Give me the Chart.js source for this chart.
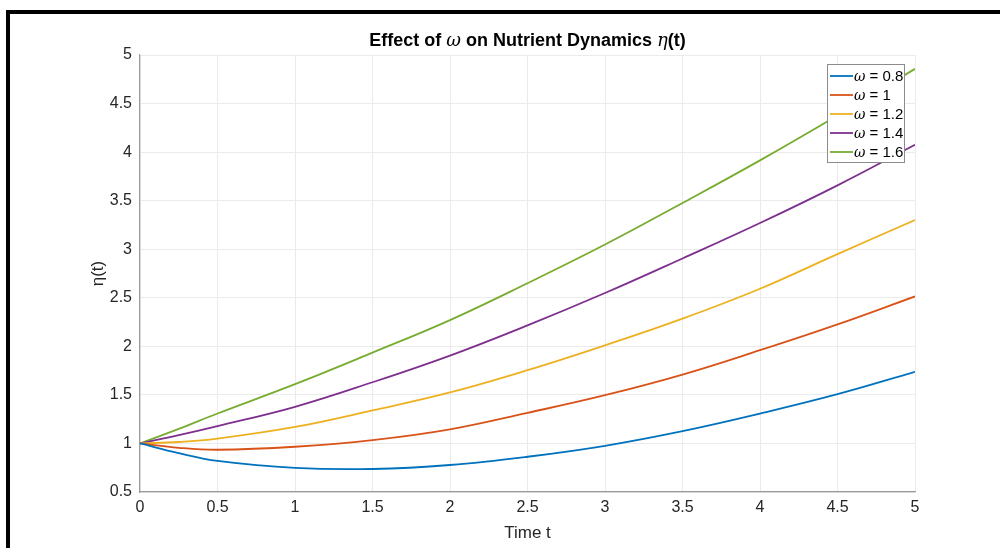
<!DOCTYPE html>
<html>
<head>
<meta charset="utf-8">
<script src="https://cdn.jsdelivr.net/npm/chart.js@4"></script>
<style>
  html, body { margin: 0; padding: 0; background: #fff; }
  #wrap { position: relative; width: 1000px; height: 548px; }
  #frame { position: absolute; left: 6px; top: 10px; right: 0; bottom: 0;
           border-top: 4px solid #000; border-left: 4px solid #000; pointer-events: none; }
  canvas { position: absolute; left: 0; top: 0; }
</style>
</head>
<body>
<div id="wrap">
  <canvas id="chart" width="1000" height="548"></canvas>
  <div id="frame"></div>
</div>
<script>
// time points (t) and eta(t) for each omega
const tValues = [0, 0.25, 0.5, 1, 1.5, 2, 2.5, 3, 3.5, 4, 4.5, 5];
const omegaLabels = ['0.8', '1', '1.2', '1.4', '1.6'];
const eta08 = [1, 0.9, 0.82, 0.748, 0.737, 0.778, 0.863, 0.976, 1.127, 1.308, 1.507, 1.737];
const eta10 = [1, 0.955, 0.935, 0.966, 1.034, 1.145, 1.315, 1.497, 1.709, 1.96, 2.226, 2.514];
const eta12 = [1, 1.015, 1.05, 1.17, 1.34, 1.525, 1.754, 2.01, 2.285, 2.593, 2.95, 3.3];
const eta14 = [1, 1.085, 1.178, 1.377, 1.63, 1.905, 2.216, 2.549, 2.905, 3.27, 3.658, 4.076];
const eta16 = [1, 1.15, 1.308, 1.61, 1.935, 2.27, 2.65, 3.048, 3.476, 3.915, 4.377, 4.857];
const xTicks = [0, 0.5, 1, 1.5, 2, 2.5, 3, 3.5, 4, 4.5, 5];
const yTicks = [0.5, 1, 1.5, 2, 2.5, 3, 3.5, 4, 4.5, 5];

const colors = ['#0072BD', '#D95319', '#EDB120', '#7E2F8E', '#77AC30'];
const series = [eta08, eta10, eta12, eta14, eta16];

const datasets = series.map((vals, i) => ({
    label: 'ω = ' + omegaLabels[i],
    data: vals.map((v, j) => ({ x: tValues[j], y: v })),
    borderColor: colors[i],
    backgroundColor: colors[i],
    borderWidth: 1.8,
    pointRadius: 0,
    tension: 0.4,
    fill: false
}));

const FONT = '"Liberation Sans", Arial, sans-serif';
const SERIF = '"DejaVu Serif", "Liberation Serif", serif';

// draw a run of text pieces with mixed fonts, starting at x
function drawRich(ctx, pieces, x, y) {
    pieces.forEach(p => {
        ctx.font = p[1];
        ctx.fillText(p[0], x, y);
        x += ctx.measureText(p[0]).width;
    });
}
function richWidth(ctx, pieces) {
    let w = 0;
    pieces.forEach(p => { ctx.font = p[1]; w += ctx.measureText(p[0]).width; });
    return w;
}

const titleAndLegend = {
    id: 'titleAndLegend',
    afterDraw(chart) {
        const ctx = chart.ctx;
        const area = chart.chartArea;
        ctx.save();
        // title
        const bold = 'bold 18px ' + FONT;
        const ital = 'italic 18px ' + SERIF;
        const parts = [['Effect of ', bold], ['ω', ital], [' on Nutrient Dynamics ', bold], ['η', ital], ['(t)', bold]];
        const w = richWidth(ctx, parts);
        ctx.fillStyle = '#000';
        ctx.textBaseline = 'middle';
        drawRich(ctx, parts, (area.left + area.right) / 2 - w / 2, 41);

        // legend box inside the axes
        const bx = 827, by = 64, bw = 77, bh = 98;
        ctx.fillStyle = '#fff';
        ctx.fillRect(bx, by, bw, bh);
        ctx.strokeStyle = '#8c8c8c';
        ctx.lineWidth = 1;
        ctx.strokeRect(bx + 0.5, by + 0.5, bw, bh);
        chart.data.datasets.forEach((ds, i) => {
            const yy = by + 12 + i * 19;
            ctx.strokeStyle = ds.borderColor;
            ctx.lineWidth = 1.8;
            ctx.beginPath();
            ctx.moveTo(bx + 3, yy);
            ctx.lineTo(bx + 26, yy);
            ctx.stroke();
            ctx.fillStyle = '#000';
            drawRich(ctx, [['ω', 'italic 14px ' + SERIF], [' = ' + omegaLabels[i], '15px ' + FONT]], bx + 27, yy + 1);
        });
        ctx.restore();
    }
};

new Chart(document.getElementById('chart').getContext('2d'), {
    type: 'line',
    data: { datasets: datasets },
    options: {
        responsive: false,
        animation: false,
        layout: { padding: { left: 80, right: 85, top: 55, bottom: 0 } },
        plugins: {
            legend: { display: false },
            title: { display: false },
            tooltip: { enabled: false }
        },
        scales: {
            x: {
                type: 'linear',
                min: 0, max: 5,
                afterBuildTicks: scale => { scale.ticks = xTicks.map(v => ({ value: v })); },
                afterFit: scale => { scale.height = 56; },
                grid: { color: '#ebebeb', drawTicks: false },
                border: { color: '#9a9a9a', width: 1.2 },
                ticks: { color: '#262626', font: { family: FONT, size: 16 }, padding: 6, maxRotation: 0,
                         callback: v => String(v) },
                title: { display: true, text: 'Time t', color: '#262626',
                         font: { family: FONT, size: 17 }, padding: { top: 0, bottom: 4 } }
            },
            y: {
                min: 0.5, max: 5,
                afterBuildTicks: scale => { scale.ticks = yTicks.map(v => ({ value: v })); },
                afterFit: scale => { scale.width = 60; },
                grid: { color: '#ebebeb', drawTicks: false },
                border: { color: '#9a9a9a', width: 1.2 },
                ticks: { color: '#262626', font: { family: FONT, size: 16 }, padding: 8,
                         callback: v => String(v) },
                title: { display: true, text: 'η(t)', color: '#262626',
                         font: { family: FONT, size: 17 }, padding: { top: 8, bottom: 0 } }
            }
        }
    },
    plugins: [titleAndLegend]
});
</script>
</body>
</html>
